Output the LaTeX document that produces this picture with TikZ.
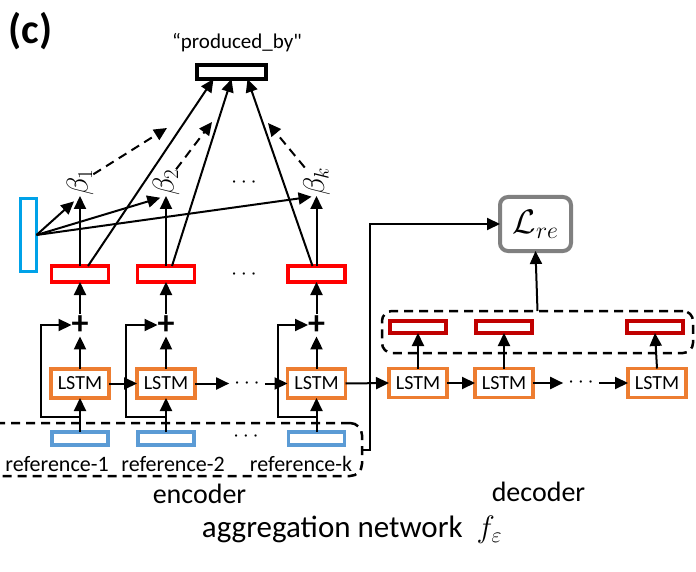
\RequirePackage{fix-cm}
\documentclass[tikz,border=0pt]{standalone}
\usepackage{fontspec}
\setmainfont{Carlito}[Ligatures=TeXOff]
\usetikzlibrary{arrows.meta}
\definecolor{attcyan}{RGB}{0,162,232}
\definecolor{refblue}{RGB}{91,155,213}
\definecolor{lstmorange}{RGB}{237,125,49}
\definecolor{hidred}{RGB}{255,0,0}
\definecolor{decred}{RGB}{192,0,0}
\definecolor{lossgray}{RGB}{128,128,128}

\begin{document}
\begin{tikzpicture}[x=1pt,y=-1pt,inner sep=0pt,outer sep=0pt,line width=2pt,
>={Triangle[length=13pt,width=12pt]},
hidbox/.style={draw=hidred,rectangle,line width=3.5pt,minimum width=57pt,minimum height=16pt},
refbox/.style={draw=refblue,rectangle,line width=3.5pt,minimum width=56pt,minimum height=13pt},
decvec/.style={draw=decred,rectangle,line width=3.5pt,minimum width=56pt,minimum height=12pt},
lstmbox/.style={draw=lstmorange,fill=white,rectangle,line width=3.5pt,minimum width=58pt,minimum height=29pt,font=\fontsize{20}{24}\selectfont},
sumsign/.style={inner ysep=2pt,font=\fontsize{34}{34}\selectfont\bfseries},
betalabel/.style={rotate=90,anchor=west,font=\fontsize{30}{34}\selectfont},
dotsnode/.style={inner xsep=5pt,font=\fontsize{22}{26}\selectfont},
reflabel/.style={font=\fontsize{22}{26}\selectfont},
biglabel/.style={font=\fontsize{28}{32}\selectfont},
dashline/.style={dash pattern=on 9pt off 6pt}]

\useasboundingbox (0,0) rectangle (696,572);
\clip (0,0) rectangle (696,572);

% groups
\draw (171,449.5) node[draw,dashline,rounded corners=12pt,line width=2.5pt,minimum width=382pt,minimum height=53pt] (encgroup) {};
\draw (537.5,332) node[draw,dashline,rounded corners=10pt,line width=2.5pt,minimum width=311pt,minimum height=42pt] (decgroup) {};

% top
\draw (30.5,31) node[font=\fontsize{42}{46}\selectfont\bfseries] (tag) {(c)};
\draw (237,43) node[font=\fontsize{21}{24}\selectfont] (relname) {“produced\_by"};
\draw (231.5,72) node[draw,rectangle,line width=4pt,minimum width=69pt,minimum height=14pt] (rel) {};
\draw (28.5,235) node[draw=attcyan,rectangle,line width=3pt,minimum width=16pt,minimum height=73pt] (att) {};

% encoder columns
\draw (80,438.5) node[refbox] (r1) {};
\draw (166,438.5) node[refbox] (r2) {};
\draw (316.5,438.5) node[refbox] (rk) {};
\draw (246,437) node[dotsnode] (rdots) {$\cdots$};
\draw (57,464) node[reflabel] (l1) {reference-1};
\draw (173,464) node[reflabel] (l2) {reference-2};
\draw (301,464) node[reflabel] (lk) {reference-k};

\draw (80,383.5) node[lstmbox] (e1) {LSTM};
\draw (166,383.5) node[lstmbox] (e2) {LSTM};
\draw (316.5,383.5) node[lstmbox] (ek) {LSTM};
\draw (247,383.5) node[dotsnode] (edots) {$\cdots$};

\draw (80,325) node[sumsign] (s1) {+};
\draw (166,325) node[sumsign] (s2) {+};
\draw (316.5,325) node[sumsign] (sk) {+};

\draw (80,274) node[hidbox] (h1) {};
\draw (166,274) node[hidbox] (h2) {};
\draw (316.5,274) node[hidbox] (hk) {};
\draw (244,275) node[dotsnode] (hdots) {$\cdots$};

\draw (80,196) node[betalabel] (b1) {$\beta_1$};
\draw (166,196) node[betalabel] (b2) {$\beta_2$};
\draw (316.5,196) node[betalabel] (bk) {$\beta_k$};
\draw (244,183) node[dotsnode] (bdots) {$\cdots$};

% decoder
\draw (418,383) node[lstmbox] (d1) {LSTM};
\draw (504,383) node[lstmbox] (d2) {LSTM};
\draw (657,383) node[lstmbox] (dk) {LSTM};
\draw (581,383) node[dotsnode] (ddots) {$\cdots$};
\draw (418,327) node[decvec] (o1) {};
\draw (504,327) node[decvec] (o2) {};
\draw (655,327) node[decvec] (ok) {};
\draw (535.5,224) node[draw=lossgray,rounded corners=8pt,line width=4pt,minimum width=71pt,minimum height=54pt,font=\fontsize{34}{38}\selectfont] (loss) {$\mathcal{L}_{re}$};

% captions
\draw (199.5,494) node[biglabel] (enclabel) {encoder};
\draw (538.5,492) node[biglabel] (declabel) {decoder};
\draw (352,530) node[font=\fontsize{31}{35}\selectfont] (aggname) {aggregation network\ \ $f_{\varepsilon}$};

% chain
\draw[->] (e1.east) -- (e2.west);
\draw[->] (e2.east) -- (edots.west);
\draw[->] (edots.east) -- (ek.west);
\draw[->] (ek.east) -- (d1.west);
\draw[->] (d1.east) -- (d2.west);
\draw[->] (d2.east) -- (ddots.west);
\draw[->] (ddots.east) -- (dk.west);

% inputs, residual sums
\draw[->] (r1.north) -- (e1.south);
\draw[->] (r2.north) -- (e2.south);
\draw[->] (rk.north) -- (ek.south);
\draw[->] (r1.north) ++(0,-15) -- ++(-39,0) |- (s1.west);
\draw[->] (r2.north) ++(0,-15) -- ++(-40,0) |- (s2.west);
\draw[->] (rk.north) ++(0,-15) -- ++(-38.5,0) |- (sk.west);
\draw[->] (e1.north) -- (s1.south);
\draw[->] (e2.north) -- (s2.south);
\draw[->] (ek.north) -- (sk.south);
\draw[->] (s1.north) -- (h1.south);
\draw[->] (s2.north) -- (h2.south);
\draw[->] (sk.north) -- (hk.south);

% attention
\draw[->] (h1.north) -- (b1.west);
\draw[->] (h2.north) -- (b2.west);
\draw[->] (hk.north) -- (bk.west);
\draw[->,shorten >=8pt] (att.east) -- (b1.west);
\draw[->,shorten >=6pt] (att.east) -- (b2.west);
\draw[->,shorten >=5pt] (att.east) -- (bk.west);
\draw[->] ([xshift=8pt]h1.north) -- ([xshift=-18pt]rel.south);
\draw[->] ([xshift=6pt]h2.north) -- (rel.south);
\draw[->] ([xshift=-4pt]hk.north) -- ([xshift=16pt]rel.south);
\coordinate (t1) at (167,128);
\coordinate (t2) at (212,122);
\coordinate (tk) at (268,123);
\draw[->,dashline] (b1) -- (t1);
\draw[->,dashline] (b2) -- (t2);
\draw[->,dashline] (bk) -- (tk);

% outputs
\draw[->] (d1.north) -- (o1.south);
\draw[->] (d2.north) -- (o2.south);
\draw[->] (dk.north) -- (ok.south);
\draw[->] (decgroup.north) -- (loss.south);
\draw[->] (encgroup.east) -- ++(8,0) |- (loss.west);
\end{tikzpicture}
\end{document}
